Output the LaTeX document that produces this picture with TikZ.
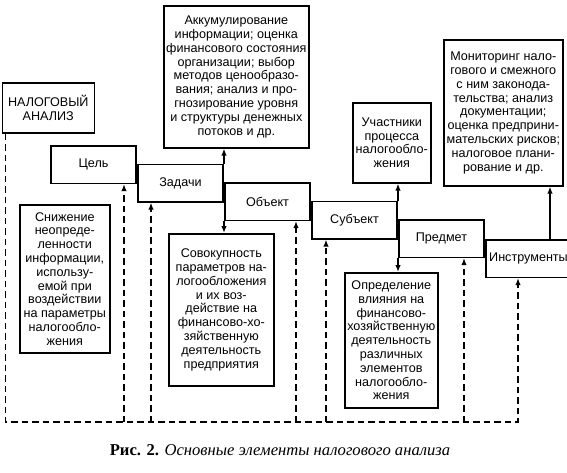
\documentclass[tikz,border=0pt]{standalone}
\usepackage{fontspec}
\setmainfont{Liberation Sans}
\newfontfamily\capfont{Liberation Serif}
\usetikzlibrary{arrows.meta}

\begin{document}
\begin{tikzpicture}[x=1pt, y=-1pt,
    box/.style={draw, line width=1.6pt, align=center, inner sep=0pt,
                font=\fontsize{12.6}{13.8}\selectfont, anchor=north west},
    stepbox/.style={box, minimum width=85.4pt, minimum height=37.5pt},
    link/.style={line width=1.6pt},
    dashln/.style={line width=1.6pt, dash pattern=on 6.5pt off 4pt},
    >={Latex[length=7pt, width=5.5pt]}]
  \useasboundingbox (0,0) rectangle (567,472);

  % stepped chain of elements
  \node[stepbox] (cel) at (50,145) {Цель};
  \node[stepbox] (zad) at ([yshift=-18.5pt]cel.north east) {Задачи};
  \node[stepbox] (obj) at ([yshift=-18.5pt]zad.north east) {Объект};
  \node[stepbox] (sub) at ([yshift=-18.5pt]obj.north east) {Субъект};
  \node[stepbox] (pred) at ([yshift=-18.5pt]sub.north east) {Предмет};
  \node[stepbox] (instr) at ([yshift=-20pt]pred.north east) {Инструменты};

  \node[box, minimum width=92pt, minimum height=50pt] (nalog) at (1.5,82)
    {НАЛОГОВЫЙ\\ АНАЛИЗ};

  % upper descriptions
  \node[box, minimum width=145pt, minimum height=142pt] (akk) at (163,5)
    {Аккумулирование\\ информации; оценка\\ финансового состояния\\
     организации; выбор\\ методов ценообразо-\\ вания; анализ и про-\\
     гнозирование уровня\\ и структуры денежных\\ потоков и др.};
  \node[box, minimum width=78pt, minimum height=80pt] (uch) at (352,102)
    {Участники\\ процесса\\ налогообло-\\ жения};
  \node[box, minimum width=119pt, minimum height=146pt] (mon) at (443,39)
    {Мониторинг нало-\\ гового и смежного\\ с ним законода-\\
     тельства; анализ\\ документации;\\ оценка предприни-\\
     мательских рисков;\\ налоговое плани-\\ рование и др.};

  % lower descriptions
  \node[box, minimum width=90pt, minimum height=148pt] (sniz) at (19,204)
    {Снижение\\ неопреде-\\ ленности\\ информации,\\ использу-\\
     емой при\\ воздействии\\ на параметры\\ налогообло-\\ жения};
  \node[box, minimum width=105pt, minimum height=152pt] (sov) at (168,233)
    {Совокупность\\ параметров на-\\ логообложения\\ и их воз-\\
     действие на\\ финансово-хо-\\ зяйственную\\ деятельность\\ предприятия};
  \node[box, minimum width=93pt, minimum height=135pt] (opr) at (344,272)
    {Определение\\ влияния на\\ финансово-\\ хозяйственную\\
     деятельность\\ различных\\ элементов\\ налогообло-\\ жения};

  % solid links
  \draw[link, ->] (zad.north east) -- (zad.north east |- akk.south);
  \draw[link, ->] (obj.south west) -- (obj.south west |- sov.north);
  \draw[link, ->] (sub.north east) -- (sub.north east |- uch.south);
  \draw[link, ->] (pred.south west) -- (pred.south west |- opr.north);
  \coordinate (ti) at ([xshift=65pt]instr.north west);
  \draw[link, ->] (ti) -- (ti |- mon.south);

  % dashed feedback
  \coordinate (base) at (0,422);
  \coordinate (d1) at ([xshift=-13pt]cel.south east);
  \coordinate (d2) at ([xshift=14pt]zad.south west);
  \coordinate (d3) at ([xshift=-15pt]obj.south east);
  \coordinate (d4) at ([xshift=15pt]sub.south west);
  \coordinate (d5) at ([xshift=-21pt]pred.south east);
  \coordinate (d6) at ([xshift=33pt]instr.south west);
  \draw[dashln, ->] ([xshift=4pt]nalog.south west) |- (d6 |- base) -- (d6);
  \foreach \d in {d1,d2,d3,d4,d5}
    \draw[dashln, ->] (\d |- base) -- (\d);

  \node (cap) at (280,450) {\capfont\fontsize{16.6}{18}\selectfont
    \textbf{Рис. 2.} \textit{Основные элементы налогового анализа}};
\end{tikzpicture}
\end{document}
